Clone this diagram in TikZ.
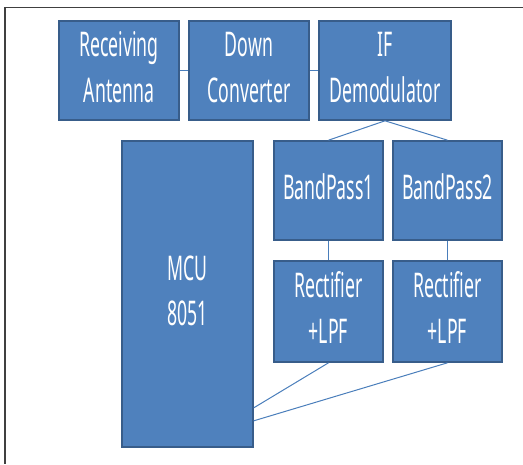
\documentclass[tikz,border=0pt]{standalone}
\usepackage{fontspec}
\usepackage{graphicx}
\setmainfont{Noto Sans}
\definecolor{boxfill}{HTML}{4F81BD}
\definecolor{boxline}{HTML}{385D8A}
\definecolor{wire}{HTML}{4A7EBB}
\definecolor{framec}{HTML}{404040}
\newcommand{\bt}[1]{\scalebox{0.52}[1]{\begin{tabular}{@{}c@{}}#1\end{tabular}}}
\tikzset{
  blk/.style={rectangle, fill=boxfill, draw=boxline, line width=1.6pt, text=white,
    font=\fontsize{34}{45.5}\selectfont, inner sep=0pt},
  wireline/.style={draw=wire, line width=1pt},
  framel/.style={draw=framec, line width=1.5pt}
}
\begin{document}
\begin{tikzpicture}[x=1pt,y=-1pt]
\useasboundingbox (0,0) rectangle (523,464);
\coordinate (f1) at (5,7.5);
\coordinate (f2) at (523,7.5);
\coordinate (f3) at (5,464);
\draw[framel] (f2) -- (f1) -- (f3);

\node[blk, minimum width=120pt, minimum height=99pt] (ra) at (119,70.5) {\bt{Receiving\\Antenna}};
\node[blk, minimum width=120pt, minimum height=99pt] (dc) at (249,70.5) {\bt{Down\\Converter}};
\node[blk, minimum width=132pt, minimum height=99pt] (ifd) at (385,70.5) {\bt{IF\\Demodulator}};
\node[blk, minimum width=131pt, minimum height=306pt] (mcu) at (187.5,294) {\bt{MCU\\8051}};
\node[blk, minimum width=109pt, minimum height=99pt] (bp1) at (328.5,190.5) {\bt{BandPass1}};
\node[blk, minimum width=109pt, minimum height=99pt] (bp2) at (447.5,190.5) {\bt{BandPass2}};
\node[blk, minimum width=109pt, minimum height=101pt] (r1) at (328.5,311.5) {\bt{Rectifier\\+LPF}};
\node[blk, minimum width=109pt, minimum height=101pt] (r2) at (447.5,311.5) {\bt{Rectifier\\+LPF}};

\coordinate (m1) at ([yshift=40pt]mcu.south east);
\coordinate (m2) at ([yshift=27pt]mcu.south east);

\draw[wireline] (ra.east) -- (dc.west);
\draw[wireline] (dc.east) -- (ifd.west);
\draw[wireline] (ifd.south) -- (bp1.north);
\draw[wireline] (ifd.south) -- (bp2.north);
\draw[wireline] (bp1.south) -- (r1.north);
\draw[wireline] (bp2.south) -- (r2.north);
\draw[wireline] (r1.south) -- (m1);
\draw[wireline] (r2.south) -- (m2);
\end{tikzpicture}
\end{document}
